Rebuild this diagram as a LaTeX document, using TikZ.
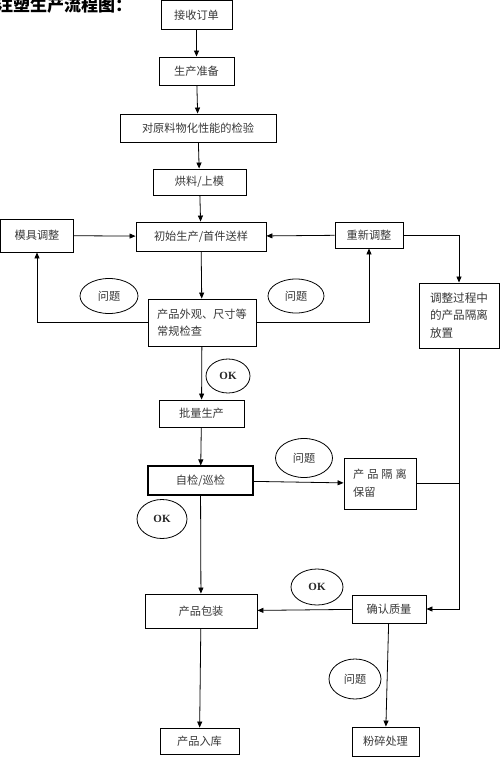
\documentclass[tikz,border=0pt]{standalone}
\usepackage{fontspec}
\newfontfamily\cjk{Noto Sans CJK SC}
\newfontfamily\okfont{Liberation Serif}
\usetikzlibrary{shapes.geometric,arrows.meta}
\begin{document}
\begin{tikzpicture}[x=1pt,y=-1pt,
  box/.style={draw,line width=0.9pt,inner sep=0pt,text=black!78,
    font=\cjk\fontsize{11.2}{16.5}\selectfont},
  oval/.style={ellipse,draw,line width=0.8pt,inner sep=0pt,text=black!78,
    font=\cjk\fontsize{11.2}{14}\selectfont},
  okoval/.style={ellipse,draw,line width=0.8pt,inner sep=0pt,text=black!85,
    font=\okfont\bfseries\fontsize{11}{13}\selectfont},
  arr/.style={line width=0.8pt,-{Triangle[length=6pt,width=5pt]}},
  plain/.style={line width=0.8pt}]
\useasboundingbox (0,0) rectangle (500,757);
\fill[white] (0,0) rectangle (500,757);
% title
\node[anchor=west,inner sep=0pt,font=\cjk\bfseries\fontsize{17}{19}\selectfont] (title) at (-4,5) {注塑生产流程图：};
% boxes
\node[box,minimum width=71pt,minimum height=29pt] (n1) at (196.5,15) {接收订单};
\node[box,minimum width=75pt,minimum height=28pt] (n2) at (196.5,71) {生产准备};
\node[box,minimum width=156pt,minimum height=28pt] (n3) at (198,128) {对原料物化性能的检验};
\node[box,minimum width=93pt,minimum height=26pt] (n4) at (199.5,182) {烘料/上模};
\node[box,minimum width=73pt,minimum height=33pt] (n5) at (37,235.5) {模具调整};
\node[box,minimum width=130pt,minimum height=29pt] (n6) at (201,236.5) {初始生产/首件送样};
\node[box,minimum width=68pt,minimum height=26pt] (n7) at (369,235) {重新调整};
\node[box,minimum width=108pt,minimum height=47pt,align=left] (n8) at (202,322.5) {产品外观、尺寸等\\常规检查};
\node[box,minimum width=80pt,minimum height=65pt,align=left,font=\cjk\fontsize{11.6}{17.5}\selectfont] (n9) at (459,315.5) {调整过程中\\的产品隔离\\放置};
\node[box,minimum width=85pt,minimum height=27pt] (n10) at (201.5,413.5) {批量生产};
\node[box,minimum width=105pt,minimum height=29pt,line width=1.1pt] (n11) at (200.5,480.5) {自检/巡检};
\node[box,minimum width=72pt,minimum height=51pt,align=left,font=\cjk\fontsize{11.2}{18}\selectfont] (n12) at (380,483.5) {产\hspace{3pt}品\hspace{3pt}隔\hspace{3pt}离\\保留};
\node[box,minimum width=112pt,minimum height=34pt] (n13) at (201,611) {产品包装};
\node[box,minimum width=74pt,minimum height=28pt] (n14) at (389,609) {确认质量};
\node[box,minimum width=79pt,minimum height=26pt] (n15) at (199.5,741) {产品入库};
\node[box,minimum width=67pt,minimum height=29pt] (n16) at (385.5,741.5) {粉碎处理};
% ovals
\node[oval,minimum width=58pt,minimum height=35pt] (q1) at (109,296) {问题};
\node[oval,minimum width=56pt,minimum height=34pt] (q2) at (296,296) {问题};
\node[okoval,minimum width=44pt,minimum height=34pt] (ok1) at (228,376) {OK};
\node[oval,minimum width=57pt,minimum height=39pt] (q3) at (304,458) {问题};
\node[okoval,minimum width=50pt,minimum height=39pt] (ok2) at (162,519) {OK};
\node[okoval,minimum width=52pt,minimum height=36pt] (ok3) at (317,587) {OK};
\node[oval,minimum width=52pt,minimum height=40pt] (q4) at (355,679) {问题};
% connectors
\draw[arr] (n1) -- (n2);
\draw[arr] (n2) -- (n3);
\draw[arr] (n3) -- (n4);
\draw[arr] (n4) -- (n6);
\draw[arr] (n5) -- (n6);
\draw[arr] (n7) -- (n6);
\draw[arr] (n7.east) -| (n9.north);
\draw[arr] (n6) -- (n8);
\draw[arr] (n8.west) -| (n5.south);
\draw[arr] (n8.east) -| (n7.south);
\draw[arr] (n8) -- (n10);
\draw[arr] (n10) -- (n11);
\draw[arr] (n11) -- (n12);
\draw[plain] (n12.east) -- (n12.east -| n9.south);
\draw[arr] (n9.south) |- (n14.east);
\draw[arr] (n11) -- (n13);
\draw[arr] (n14) -- (n13);
\draw[arr] (n13) -- (n15);
\draw[arr] (n14) -- (n16);
\end{tikzpicture}
\end{document}
